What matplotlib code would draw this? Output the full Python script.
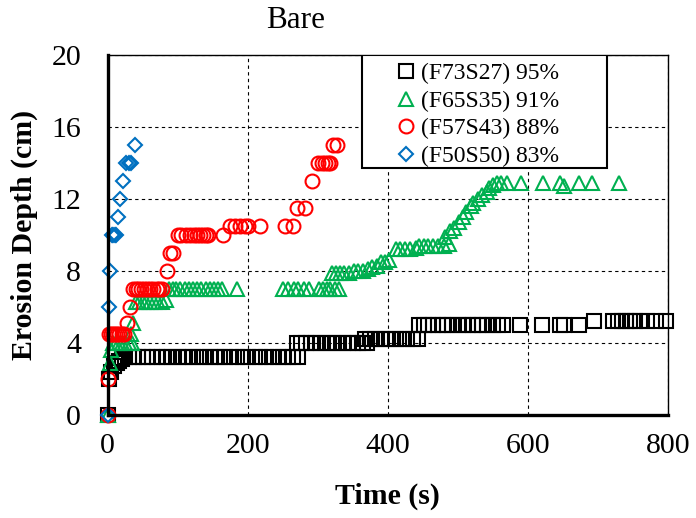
import matplotlib
matplotlib.use("Agg")
import matplotlib.pyplot as plt
from matplotlib.patches import Rectangle

plt.rcParams['font.family'] = ['Liberation Serif', 'DejaVu Serif']

# (F73S27) 95% - squares
t_f73 = [0, 2, 5, 9, 13, 17, 21,
         25, 31, 38, 44, 50, 57, 63, 70, 78, 85, 92, 100, 108, 115, 122, 130,
         138, 146, 153, 160, 168, 176, 185, 193, 200, 210, 218, 226, 235, 243,
         250, 258, 265, 272,
         270, 276, 283, 290, 298, 305, 313, 320, 328, 336, 343, 350, 357, 364, 370,
         368, 375, 382, 390, 397, 404, 412, 420, 428, 436, 443,
         445, 452, 458, 465, 472, 478, 485, 492, 500, 507, 514, 521, 528, 535,
         542, 550, 557, 565, 589, 620, 645, 651, 673,
         694,
         722, 728, 734, 740, 746, 752, 760, 770, 782, 797]
d_f73 = [0, 2.0, 2.4, 2.7, 2.9, 3.0, 3.1,
         3.2, 3.2, 3.2, 3.2, 3.2, 3.2, 3.2, 3.2, 3.2, 3.2, 3.2, 3.2, 3.2, 3.2, 3.2, 3.2,
         3.2, 3.2, 3.2, 3.2, 3.2, 3.2, 3.2, 3.2, 3.2, 3.2, 3.2, 3.2, 3.2, 3.2,
         3.2, 3.2, 3.2, 3.2,
         4.0, 4.0, 4.0, 4.0, 4.0, 4.0, 4.0, 4.0, 4.0, 4.0, 4.0, 4.0, 4.0, 4.0, 4.0,
         4.25, 4.25, 4.25, 4.25, 4.25, 4.25, 4.25, 4.25, 4.25, 4.25, 4.25,
         5.0, 5.0, 5.0, 5.0, 5.0, 5.0, 5.0, 5.0, 5.0, 5.0, 5.0, 5.0, 5.0, 5.0,
         5.0, 5.0, 5.0, 5.0, 5.0, 5.0, 5.0, 5.0, 5.0,
         5.2,
         5.2, 5.2, 5.2, 5.2, 5.2, 5.2, 5.2, 5.2, 5.2, 5.2]

# (F65S35) 91% - triangles
t_f65 = [0, 3, 5, 8, 12, 16, 20, 25, 30, 35, 34, 37,
         40, 45, 50, 55, 60, 66, 72, 78, 84,
         88, 93, 98, 104, 110, 116, 122, 128, 134, 140, 146, 152, 158, 164, 185,
         251, 258, 266, 272, 280, 287, 302, 308, 313, 318, 324, 330,
         320, 326, 332, 338, 345, 352, 358, 365, 372, 378, 384, 390, 396, 402,
         411, 418, 425, 432, 440, 445, 452, 458, 465, 472, 480, 487,
         482, 488, 495, 502, 507, 512, 518, 522, 528, 535, 541,
         545, 550, 556, 562, 570, 590, 621, 646, 651, 673, 692, 730]
d_f65 = [0, 2.9, 3.6, 4.0, 4.0, 4.0, 4.0, 4.0, 4.0, 4.0, 4.5, 5.1,
         6.3, 6.3, 6.3, 6.3, 6.3, 6.3, 6.3, 6.3, 6.4,
         7.0, 7.0, 7.0, 7.0, 7.0, 7.0, 7.0, 7.0, 7.0, 7.0, 7.0, 7.0, 7.0, 7.0, 7.0,
         7.0, 7.0, 7.0, 7.0, 7.0, 7.0, 7.0, 7.0, 7.0, 7.0, 7.0, 7.0,
         7.9, 7.9, 7.9, 7.9, 7.9, 8.0, 8.0, 8.0, 8.1, 8.2, 8.3, 8.5, 8.5, 8.6,
         9.2, 9.2, 9.2, 9.2, 9.3, 9.4, 9.4, 9.4, 9.4, 9.4, 9.4, 9.5,
         9.9, 10.2, 10.4, 10.7, 11.0, 11.3, 11.6, 11.8, 12.0, 12.2, 12.4,
         12.6, 12.8, 12.9, 12.9, 12.9, 12.9, 12.9, 12.9, 12.75, 12.9, 12.9, 12.9]

# (F57S43) 88% - circles
t_f57 = [0, 1, 2, 5, 8, 11, 14, 17, 20, 24, 28, 32,
         36, 40, 44, 48, 52, 56, 60, 65, 70, 74, 78,
         85, 89, 94,
         100, 105, 112, 118, 124, 128, 132, 136, 140, 143, 165,
         175, 182, 189, 196, 201, 218, 253, 265,
         270, 282, 292, 301, 306, 310, 315, 318, 322, 327]
d_f57 = [0, 2.0, 4.5, 4.5, 4.5, 4.5, 4.5, 4.5, 4.5, 4.5, 5.1, 6.0,
         7.0, 7.0, 7.0, 7.0, 7.0, 7.0, 7.0, 7.0, 7.0, 7.0, 7.0,
         8.0, 9.0, 9.0,
         10.0, 10.0, 10.0, 10.0, 10.0, 10.0, 10.0, 10.0, 10.0, 10.0, 10.0,
         10.5, 10.5, 10.5, 10.5, 10.5, 10.5, 10.5, 10.5,
         11.5, 11.5, 13.0, 14.0, 14.0, 14.0, 14.0, 14.0, 15.0, 15.0]

# (F50S50) 83% - diamonds
t_f50 = [0, 2, 3.5, 6, 8, 10, 12, 15, 18, 22, 27, 30, 33, 39]
d_f50 = [0, 6.0, 8.0, 10.0, 10.0, 10.0, 10.0, 11.0, 12.0, 13.0, 14.0, 14.0, 14.0, 15.0]

labels = ["(F73S27) 95%", "(F65S35) 91%", "(F57S43) 88%", "(F50S50) 83%"]
x_ticks = [0, 200, 400, 600, 800]
y_ticks = [0, 4, 8, 12, 16, 20]

fig = plt.figure(figsize=(6.96, 5.18), dpi=100)
ax = fig.add_axes([0.1545, 0.1988, 0.8055, 0.695])

ax.plot(t_f73, d_f73, ls='none', marker='s', ms=9.5, mfc='none', mec='black', mew=1.5,
        label=labels[0], clip_on=False)
ax.plot(t_f65, d_f65, ls='none', marker='^', ms=10, mfc='none', mec='#00B050', mew=1.5,
        label=labels[1], clip_on=False)
ax.plot(t_f57, d_f57, ls='none', marker='o', ms=10, mfc='none', mec='#FF0000', mew=1.5,
        label=labels[2], clip_on=False)
ax.plot(t_f50, d_f50, ls='none', marker='D', ms=7.5, mfc='none', mec='#0070C0', mew=1.5,
        label=labels[3], clip_on=False)

ax.set_xlim(0, 800)
ax.set_ylim(0, 20)
ax.set_xticks(x_ticks)
ax.set_yticks(y_ticks)
ax.tick_params(axis='both', length=0, labelsize=21.5)
ax.tick_params(axis='x', pad=13)
ax.tick_params(axis='y', pad=19)

# grille pointillée
ax.grid(True, linestyle=(0, (3, 3)), color='black', linewidth=0.8)
ax.set_axisbelow(True)

ax.spines['left'].set_linewidth(2.4)
ax.spines['bottom'].set_linewidth(2.4)
ax.spines['top'].set_linewidth(1.0)
ax.spines['right'].set_linewidth(1.0)

ax.set_xlabel("Time (s)", fontsize=21.5, fontweight='bold', labelpad=17)
ax.set_ylabel("Erosion Depth (cm)", fontsize=21.5, fontweight='bold', labelpad=10)

fig.text(296 / 696, 1 - 20 / 518, "Bare", fontsize=22.5, ha='center', va='center')

# cadre de la légende, plus large que le contenu (comme dans Excel)
box = Rectangle((0.454, 0.686), 0.437, 0.314, transform=ax.transAxes,
                facecolor='white', edgecolor='black', linewidth=1.5, zorder=4)
ax.add_patch(box)

leg = ax.legend(loc='upper left', bbox_to_anchor=(0.515, 0.979), fontsize=17,
                frameon=False, handlelength=0.8, handletextpad=0.25,
                labelspacing=0.26, borderpad=0, borderaxespad=0)
leg.set_zorder(5)

fig.savefig("out.png", dpi=100)
